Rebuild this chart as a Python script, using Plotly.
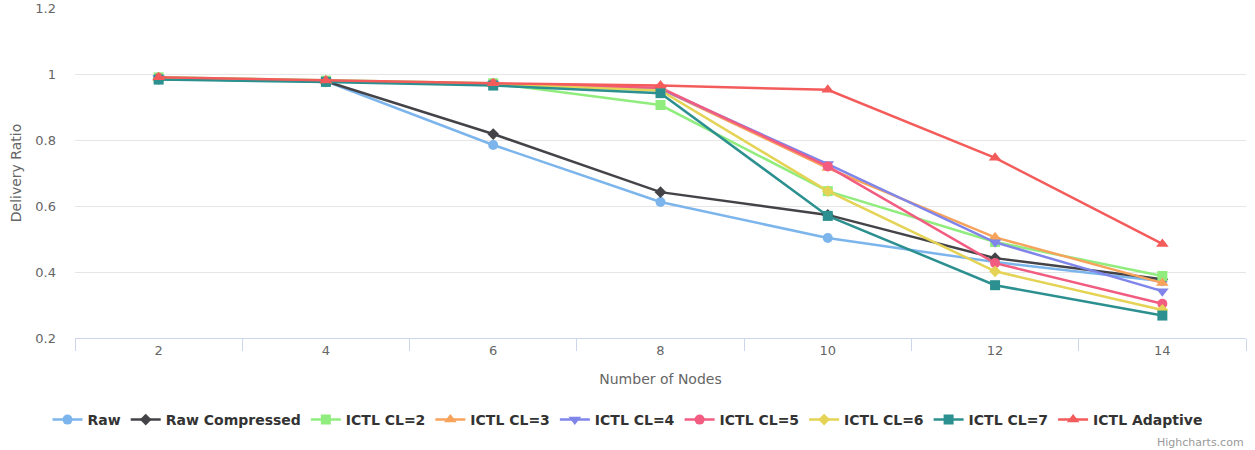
import plotly.graph_objects as go

nodes = ["2", "4", "6", "8", "10", "12", "14"]

raw            = [0.985, 0.978, 0.785, 0.612, 0.503, 0.430, 0.372]
raw_compressed = [0.985, 0.978, 0.818, 0.642, 0.573, 0.442, 0.378]
ictl_cl2       = [0.990, 0.980, 0.972, 0.906, 0.645, 0.491, 0.388]
ictl_cl3       = [0.988, 0.978, 0.970, 0.955, 0.715, 0.505, 0.367]
ictl_cl4       = [0.987, 0.977, 0.969, 0.955, 0.727, 0.490, 0.342]
ictl_cl5       = [0.988, 0.978, 0.970, 0.958, 0.720, 0.427, 0.304]
ictl_cl6       = [0.987, 0.977, 0.969, 0.950, 0.645, 0.402, 0.285]
ictl_cl7       = [0.983, 0.976, 0.965, 0.942, 0.570, 0.360, 0.268]
ictl_adaptive  = [0.990, 0.980, 0.972, 0.965, 0.952, 0.746, 0.485]

series_names = ["Raw", "Raw Compressed", "ICTL CL=2", "ICTL CL=3", "ICTL CL=4",
                "ICTL CL=5", "ICTL CL=6", "ICTL CL=7", "ICTL Adaptive"]
series_values = [raw, raw_compressed, ictl_cl2, ictl_cl3, ictl_cl4,
                 ictl_cl5, ictl_cl6, ictl_cl7, ictl_adaptive]
colors = ["#7cb5ec", "#434348", "#90ed7d", "#f7a35c", "#8085e9",
          "#f15c80", "#e4d354", "#2b908f", "#f45b5b"]
symbols = ["circle", "diamond", "square", "triangle-up", "triangle-down",
           "circle", "diamond", "square", "triangle-up"]
sizes = {"circle": 10, "square": 10, "diamond": 9, "triangle-up": 11, "triangle-down": 11}

FONT = "DejaVu Sans"

fig = go.Figure()
for name, vals, color, sym in zip(series_names, series_values, colors, symbols):
    fig.add_trace(go.Scatter(
        x=nodes, y=vals, name=name, mode="lines+markers",
        line=dict(color=color, width=2.5),
        marker=dict(color=color, symbol=sym, size=sizes[sym]),
    ))

fig.update_layout(
    width=1255, height=450,
    margin=dict(l=75, r=9, t=8, b=112, autoexpand=False),
    paper_bgcolor="white", plot_bgcolor="white",
    font=dict(family=FONT, color="#666666", size=13),
    showlegend=True,
    legend=dict(
        orientation="h", xref="container", yref="container",
        x=0.5, xanchor="center", y=1 - 420 / 450, yanchor="middle",
        font=dict(size=14, color="#333333", family=FONT, weight="bold"),
        itemwidth=30, tracegroupgap=0,
    ),
    xaxis=dict(
        type="category", tickson="boundaries", ticks="outside", ticklen=12,
        tickcolor="#ccd6eb", showline=True, linecolor="#ccd6eb", linewidth=1,
        showgrid=False, tickfont=dict(size=13, color="#666666"),
        title=dict(text="Number of Nodes", font=dict(size=14, color="#666666"), standoff=17),
        range=[-0.5, 6.5], automargin=False,
    ),
    yaxis=dict(
        range=[0.2, 1.2], dtick=0.2, tick0=0.2, showgrid=True, gridcolor="#e6e6e6",
        gridwidth=1, zeroline=False, showline=False, ticks="",
        ticklabelstandoff=18, ticklabeloverflow="allow",
        tickfont=dict(size=13, color="#666666"),
        title=dict(text="Delivery Ratio", font=dict(size=14, color="#666666"), standoff=10),
        automargin=False,
    ),
    annotations=[dict(
        text="Highcharts.com", xref="paper", yref="paper", x=1.0,
        y=(338 - 442) / 330,
        xanchor="right", yanchor="middle", showarrow=False,
        font=dict(size=11, color="#999999"),
    )],
)

fig.write_html("out.html", config={"displayModeBar": False},
               post_script="document.body.style.margin='0px';")
